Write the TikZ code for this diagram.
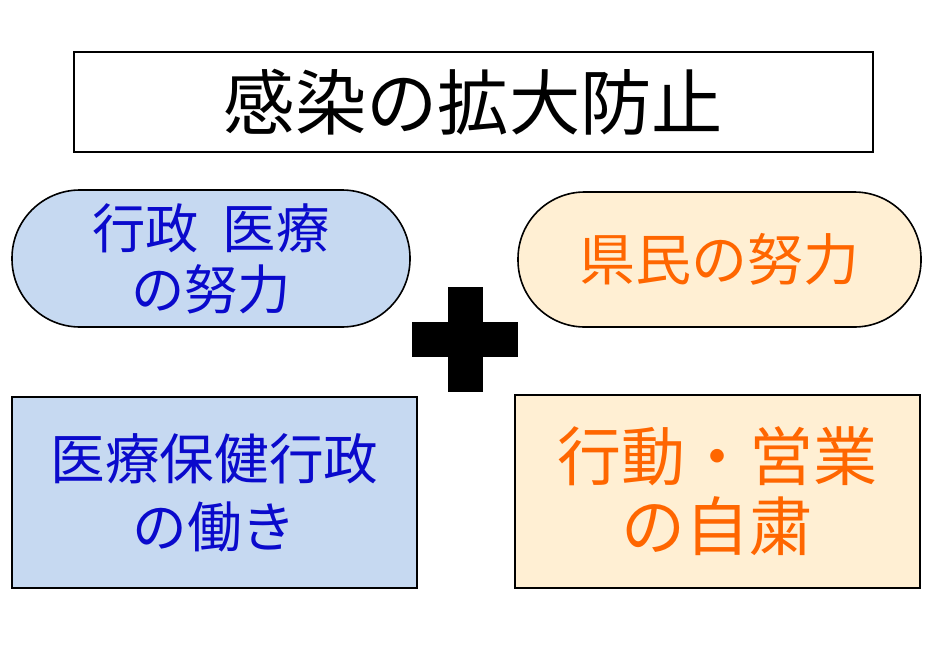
\documentclass[tikz,border=0pt]{standalone}
\usepackage{fontspec}
\setmainfont{Noto Sans CJK JP}
\definecolor{bfill}{HTML}{C6D9F1}
\definecolor{ofill}{HTML}{FFEFD3}
\definecolor{btext}{HTML}{0A0ACC}
\definecolor{otext}{HTML}{FF6600}
\tikzset{
  px/.style={x=0.75pt,y=-0.75pt},
  box/.style={draw=black,line width=1.2pt,inner sep=0pt,align=center},
}
\begin{document}
\begin{tikzpicture}[px]
\useasboundingbox (0,0) rectangle (937,653);
\fill[white] (0,0) rectangle (937,653);
% title
\node[box,line width=1.5pt,minimum width=599.25pt,minimum height=75pt,font=\fontsize{53.5}{60}\selectfont] (title) at (473.5,102) {感染の拡大防止};
% left pill
\node[box,fill=bfill,rounded corners=51pt,minimum width=298.5pt,minimum height=102.75pt,text=btext,font=\fontsize{40}{45.7}\selectfont] (lp) at (211,258.5) {行政\hspace{0.45em}医療\\の努力};
% right pill
\node[box,fill=ofill,rounded corners=50pt,minimum width=302.25pt,minimum height=101.25pt,text=otext,font=\fontsize{42}{50}\selectfont] (rp) at (719.5,259.5) {県民の努力};
% bottom left
\node[box,fill=bfill,minimum width=303.75pt,minimum height=143.25pt,text=btext,font=\fontsize{41}{51}\selectfont] (bl) at (214.5,492.5) {医療保健行政\\の働き};
% bottom right
\node[box,fill=ofill,line width=2.2pt,minimum width=303.75pt,minimum height=144.75pt,text=otext,font=\fontsize{48}{52.5}\selectfont] (br) at (717.5,491.5) {行動・営業\\の自粛};
% plus
\node[fill=black,inner sep=0pt,minimum width=26.25pt,minimum height=78.75pt] (pv) at (465,339.5) {};
\node[fill=black,inner sep=0pt,minimum width=79.5pt,minimum height=26.25pt] (ph) at (pv.center) {};
\end{tikzpicture}
\end{document}
